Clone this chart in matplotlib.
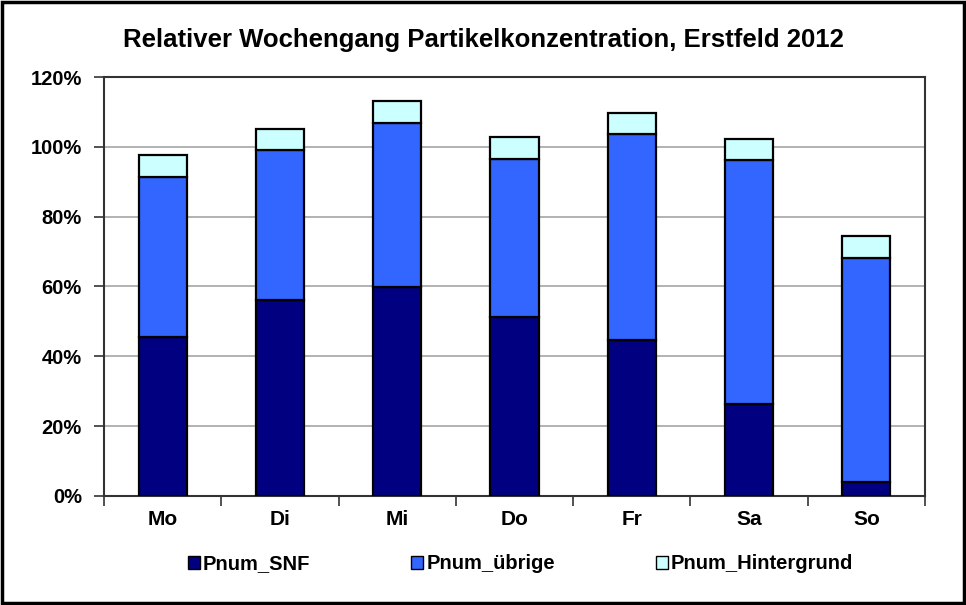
import numpy as np
import matplotlib.pyplot as plt
from matplotlib.patches import Rectangle
from matplotlib.ticker import PercentFormatter

plt.rcParams['font.family'] = ['Liberation Sans', 'DejaVu Sans']
plt.rcParams['font.weight'] = 'bold'

# Daten (Anteile in %)
days = ["Mo", "Di", "Mi", "Do", "Fr", "Sa", "So"]
snf = [45.5, 56.2, 59.8, 51.3, 44.6, 26.4, 4.0]
uebrige = [46.0, 42.8, 47.1, 45.3, 59.1, 69.9, 64.3]
hintergrund = [6.3, 6.1, 6.2, 6.1, 6.0, 6.0, 6.2]

title = "Relativer Wochengang Partikelkonzentration, Erstfeld 2012"
labels = ["Pnum_SNF", "Pnum_übrige", "Pnum_Hintergrund"]
colors = ["#000080", "#3366FF", "#CCFFFF"]

fig = plt.figure(figsize=(9.66, 6.05), dpi=100)
ax = fig.add_axes([0.1077, 0.1802, 0.8499, 0.6925])

x = np.arange(len(days))
bottom = np.zeros(len(days))
for vals, lab, col in zip([snf, uebrige, hintergrund], labels, colors):
    ax.bar(x, vals, width=0.41, bottom=bottom, color=col, edgecolor="black",
           linewidth=1.6, label=lab, zorder=3)
    bottom += np.array(vals)

ax.set_xlim(-0.5, len(days) - 0.5)
ax.set_ylim(0, 120)
ax.set_yticks(np.arange(0, 121, 20))
ax.yaxis.set_major_formatter(PercentFormatter(decimals=0))
ax.grid(axis="y", color="#a6a6a6", linewidth=1.2, zorder=0)

ax.set_xticks(x)
ax.set_xticklabels(days)
ax.set_xticks(np.arange(-0.5, len(days), 1.0), minor=True)
ax.tick_params(axis="x", which="major", length=0, pad=10, labelsize=15)
ax.tick_params(axis="x", which="minor", length=7, width=1.2, color="#333333")
ax.tick_params(axis="y", length=7, width=1.2, color="#333333", pad=9, labelsize=14.5)

for sp in ax.spines.values():
    sp.set_color("#333333")
    sp.set_linewidth(1.5)

fig.text(0.5, 0.934, title, ha="center", va="center", fontsize=18.5, fontweight="bold")

handles, _ = ax.get_legend_handles_labels()
leg = fig.legend(handles, labels, loc="center", bbox_to_anchor=(520.5 / 966, 0.0678),
                 ncol=3, frameon=False, handlelength=0.6, handleheight=0.6,
                 handletextpad=0.15, columnspacing=5.0, borderpad=0,
                 prop={"weight": "bold", "size": 14.5})
for h in leg.legend_handles:
    h.set_linewidth(1.0)

# Rahmen um die ganze Grafik
fig.patches.append(Rectangle((0.002, 0.003), 0.996, 0.994, transform=fig.transFigure,
                             fill=False, edgecolor="black", linewidth=2.5))

fig.savefig("out.png", dpi=100)
